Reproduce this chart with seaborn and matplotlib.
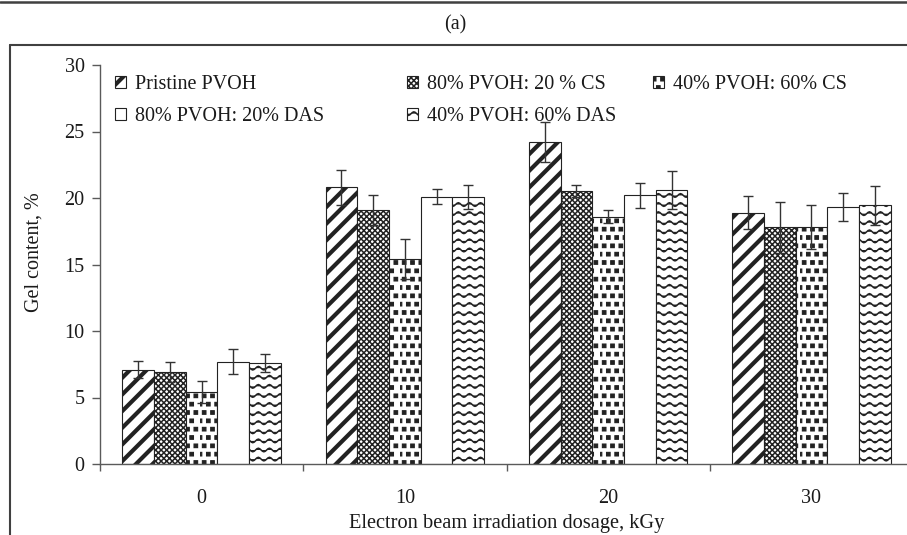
import numpy as np
import pandas as pd
import matplotlib
matplotlib.use("Agg")
import matplotlib.pyplot as plt
import seaborn as sns
import matplotlib.hatch as mhatch
from matplotlib.path import Path
from matplotlib.lines import Line2D
from matplotlib.ticker import FixedLocator
import warnings
warnings.filterwarnings("ignore")

# ---------------- data ----------------
doses = ["0", "10", "20", "30"]
series = ["Pristine PVOH", "80% PVOH: 20 % CS", "40% PVOH: 60% CS",
          "80% PVOH: 20% DAS", "40% PVOH: 60% DAS"]
pristine = [7.1, 20.8, 24.2, 18.9]
pvoh80_cs20 = [6.9, 19.1, 20.5, 17.8]
pvoh40_cs60 = [5.4, 15.4, 18.6, 17.85]
pvoh80_das20 = [7.7, 20.1, 20.2, 19.3]
pvoh40_das60 = [7.6, 20.1, 20.6, 19.45]
err_pristine = [0.65, 1.3, 1.5, 1.25]
err_80cs = [0.75, 1.1, 0.45, 1.9]
err_40cs = [0.85, 1.5, 0.5, 1.65]
err_80das = [0.95, 0.55, 0.95, 1.05]
err_40das = [0.7, 0.9, 1.4, 1.45]
yticks = [0, 5, 10, 15, 20, 25, 30]

values = [pristine, pvoh80_cs20, pvoh40_cs60, pvoh80_das20, pvoh40_das60]
errors = [err_pristine, err_80cs, err_40cs, err_80das, err_40das]

df = pd.DataFrame({
    "dose": [d for s in series for d in doses],
    "series": [s for s in series for d in doses],
    "gel": [v for vals in values for v in vals],
})


# ---------------- custom hatches ----------------
class WaveHatch(mhatch.HatchPatternBase):
    def __init__(self, hatch, density):
        n = hatch.count("~")
        self.rows = 11 * n
        self.peaks = 9
        self.pts = 8 * self.peaks + 1
        self.num_vertices = self.rows * self.pts

    def set_vertices_and_codes(self, vertices, codes):
        xs = np.linspace(0, 1, self.pts)
        amp = 0.018
        k = 0
        for i in range(self.rows):
            y0 = (i + 0.5) / self.rows
            ys = y0 + amp * np.sin(2 * np.pi * self.peaks * xs)
            vertices[k:k + self.pts, 0] = xs
            vertices[k:k + self.pts, 1] = ys
            codes[k] = Path.MOVETO
            codes[k + 1:k + self.pts] = Path.LINETO
            k += self.pts


class SquareDotHatch(mhatch.HatchPatternBase):
    def __init__(self, hatch, density):
        n = hatch.count("q")
        self.grid = 12 * n
        self.half = 0.018
        self.num_vertices = self.grid * self.grid * 5 if n else 0

    def set_vertices_and_codes(self, vertices, codes):
        g = self.grid
        h = self.half
        k = 0
        for r in range(g):
            y = (r + 0.5) / g
            off = 0.5 / g if r % 2 else 0.0
            for c in range(g):
                x = ((c + 0.5) / g + off) % 1.0
                vertices[k:k + 5] = [[x - h, y - h], [x + h, y - h],
                                     [x + h, y + h], [x - h, y + h],
                                     [x - h, y - h]]
                codes[k] = Path.MOVETO
                codes[k + 1:k + 4] = Path.LINETO
                codes[k + 4] = Path.CLOSEPOLY
                k += 5


for cls in (WaveHatch, SquareDotHatch):
    if cls not in mhatch._hatch_types:
        mhatch._hatch_types.append(cls)

# ---------------- style ----------------
sns.set_theme(style="white")
plt.rcParams["font.family"] = ["Liberation Serif", "DejaVu Serif"]
plt.rcParams["font.size"] = 14.5
TXT = "#1a1a1a"
AX = "#5a5a5a"

fig = plt.figure(figsize=(9.07, 5.35), dpi=100)
ax = fig.add_axes([100 / 907, 71 / 535, 813 / 907, 399 / 535])

sns.barplot(data=df, x="dose", y="gel", hue="series", order=doses,
            hue_order=series, palette=["white"] * 5, errorbar=None,
            width=0.78, gap=0, legend=False, ax=ax,
            edgecolor="#222222", linewidth=0.8)

hatches = ["//", "xxxxxx", "q", "", "~"]
hlws = [3.0, 1.1, 0.8, 1.0, 1.1]


def set_hlw(p, lw):
    if hasattr(p, "set_hatch_linewidth"):
        p.set_hatch_linewidth(lw)
    else:
        p._hatch_linewidth = lw


for cont, h, lw in zip(ax.containers, hatches, hlws):
    for p in cont.patches:
        p.set_hatch(h)
        p.set_edgecolor("#222222")
        set_hlw(p, lw)

# error bars
for cont, errs in zip(ax.containers, errors):
    xs = [p.get_x() + p.get_width() / 2 for p in cont.patches]
    ys = [p.get_height() for p in cont.patches]
    ax.errorbar(xs, ys, yerr=errs, fmt="none", ecolor="#333333",
                elinewidth=1.0, capsize=3.6, capthick=1.0, zorder=5)

# axes
ax.set_xlim(-0.5, 3.5)
ax.set_ylim(0, 30)
ax.set_yticks(yticks)
ax.xaxis.set_minor_locator(FixedLocator([-0.5, 0.5, 1.5, 2.5, 3.5]))
ax.tick_params(axis="x", which="major", length=0, pad=18, labelsize=14.5,
               colors=TXT)
ax.tick_params(axis="x", which="minor", length=5, width=1, color=AX,
               direction="out", bottom=True)
ax.tick_params(axis="y", which="major", length=6, width=1, color=AX,
               direction="out", left=True, pad=5, labelsize=14.5,
               labelcolor=TXT)
for s in ["top", "right"]:
    ax.spines[s].set_visible(False)
for s in ["left", "bottom"]:
    ax.spines[s].set_color(AX)
    ax.spines[s].set_linewidth(1.0)

ax.set_xlabel("Electron beam irradiation dosage, kGy", fontsize=14.7,
              color=TXT)
ax.set_ylabel("Gel content, %", fontsize=14.5, color=TXT)
ax.xaxis.set_label_coords(0.5, -0.125)
ax.yaxis.set_label_coords(-0.07, 0.53)

# legends (three columns)
cols = [[0, 3], [1, 4], [2]]
col_x = [115, 407, 653]
for ci, (idxs, xpx) in enumerate(zip(cols, col_x)):
    leg = ax.legend(handles=[ax.containers[i] for i in idxs],
                    labels=[series[i] for i in idxs],
                    loc="upper left",
                    bbox_to_anchor=(xpx / 907, 1 - 75 / 535),
                    bbox_transform=fig.transFigure,
                    frameon=False, borderpad=0, borderaxespad=0,
                    handlelength=0.55, handleheight=0.55,
                    handletextpad=0.45, labelspacing=0.65,
                    fontsize=14.5)
    for t in leg.get_texts():
        t.set_color(TXT)
    for hnd, i in zip(leg.legend_handles, idxs):
        set_hlw(hnd, hlws[i])
        hnd.set_hatch(hatches[i])
        hnd.set_edgecolor("#222222")
        hnd.set_linewidth(0.8)
    if ci < 2:
        ax.add_artist(leg)

# title and frame lines
fig.text(455 / 907, 1 - 25 / 535, "(a)", ha="center", va="center",
         fontsize=14.5, color=TXT)
fig.add_artist(Line2D([0, 1], [1 - 1.5 / 535, 1 - 1.5 / 535],
                      transform=fig.transFigure, color="#404040", lw=1.8))
fig.add_artist(Line2D([10 / 907, 1], [1 - 45 / 535, 1 - 45 / 535],
                      transform=fig.transFigure, color="#404040", lw=1.5))
fig.add_artist(Line2D([10 / 907, 10 / 907], [0, 1 - 45 / 535],
                      transform=fig.transFigure, color="#404040", lw=1.5))

fig.savefig("out.png", dpi=100)
